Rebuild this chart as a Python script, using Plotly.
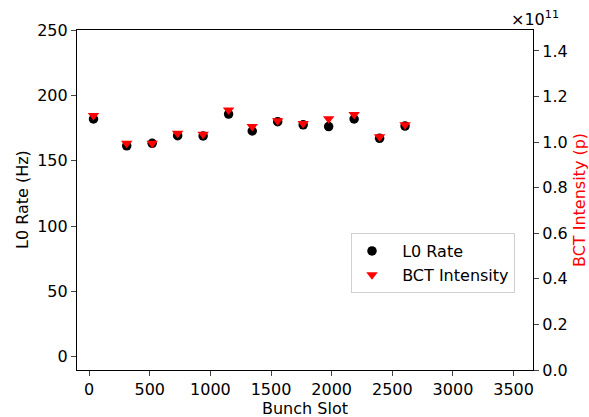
import plotly.graph_objects as go

bunch_slot = [36, 310, 520, 730, 940, 1150, 1345, 1555, 1765, 1975, 2185, 2395, 2605]
l0_rate = [181.9, 161.4, 163.3, 169.1, 168.9, 185.7, 172.7, 179.8, 177.4, 176.1, 181.9, 167.1, 176.5]
bct_intensity_e11 = [1.117, 0.995, 0.995, 1.039, 1.035, 1.141, 1.069, 1.094, 1.082, 1.102, 1.121, 1.024, 1.076]

left_ticks = [0, 50, 100, 150, 200, 250]
right_ticks = [0.0, 0.2, 0.4, 0.6, 0.8, 1.0, 1.2, 1.4]
x_ticks = [0, 500, 1000, 1500, 2000, 2500, 3000, 3500]

font = "DejaVu Sans, sans-serif"
pad = "\u00a0\u00a0"
FS = 16

fig = go.Figure()
fig.add_trace(go.Scatter(
    x=bunch_slot, y=l0_rate, mode="markers", name=pad + "L0 Rate",
    marker=dict(symbol="circle", color="black", size=9.5),
))
fig.add_trace(go.Scatter(
    x=bunch_slot, y=bct_intensity_e11, mode="markers", name=pad + "BCT Intensity",
    marker=dict(symbol="triangle-down", color="red", size=10),
    yaxis="y2",
))

W, H = 589, 417
L, R, T, B = 77, 56, 30, 47
pw, ph = W - L - R, H - T - B

def px_x(p):
    return (p - L) / pw

def px_y(p):
    return (H - B - p) / ph

fig.update_layout(
    width=W, height=H,
    margin=dict(l=L, r=R, t=T, b=B),
    plot_bgcolor="white", paper_bgcolor="white",
    font=dict(family=font, size=FS, color="black"),
    showlegend=True,
    legend=dict(
        x=px_x(515), y=px_y(293), xanchor="right", yanchor="bottom",
        bgcolor="white", bordercolor="#d0d0d0", borderwidth=1,
        font=dict(size=FS), itemwidth=30,
    ),
    xaxis=dict(
        range=[-100, 3660], tickvals=x_ticks, ticks="outside", ticklen=5,
        showline=True, linecolor="black", linewidth=1.2, mirror=True,
        showgrid=False, zeroline=False, automargin=False,
    ),
    yaxis=dict(
        range=[-10.2, 250], tickvals=left_ticks, ticks="outside", ticklen=5,
        showline=True, linecolor="black", linewidth=1.2, mirror=True,
        showgrid=False, zeroline=False, automargin=False,
    ),
    yaxis2=dict(
        range=[0, 1.492], tickvals=right_ticks, tickformat=".1f",
        ticks="outside", ticklen=5, overlaying="y", side="right",
        showline=True, linecolor="black", linewidth=1.2,
        showgrid=False, zeroline=False, automargin=False,
    ),
    annotations=[
        dict(text="×10<sup>11</sup>", xref="paper", yref="paper",
             x=px_x(535), y=px_y(19), xanchor="center", yanchor="middle",
             showarrow=False, font=dict(size=FS)),
        dict(text="Bunch Slot", xref="paper", yref="paper",
             x=0.5, y=px_y(408.5), xanchor="center", yanchor="middle",
             showarrow=False, font=dict(size=FS)),
        dict(text="L0 Rate (Hz)", xref="paper", yref="paper",
             x=px_x(22), y=0.5, xanchor="center", yanchor="middle",
             textangle=-90, showarrow=False, font=dict(size=FS)),
        dict(text="BCT Intensity (p)", xref="paper", yref="paper",
             x=px_x(579), y=0.5, xanchor="center", yanchor="middle",
             textangle=-90, showarrow=False, font=dict(size=FS, color="red")),
    ],
)

fig.write_html(
    "out.html",
    config={"displayModeBar": False},
    post_script="document.body.style.margin='0';document.body.style.overflow='hidden';",
)
